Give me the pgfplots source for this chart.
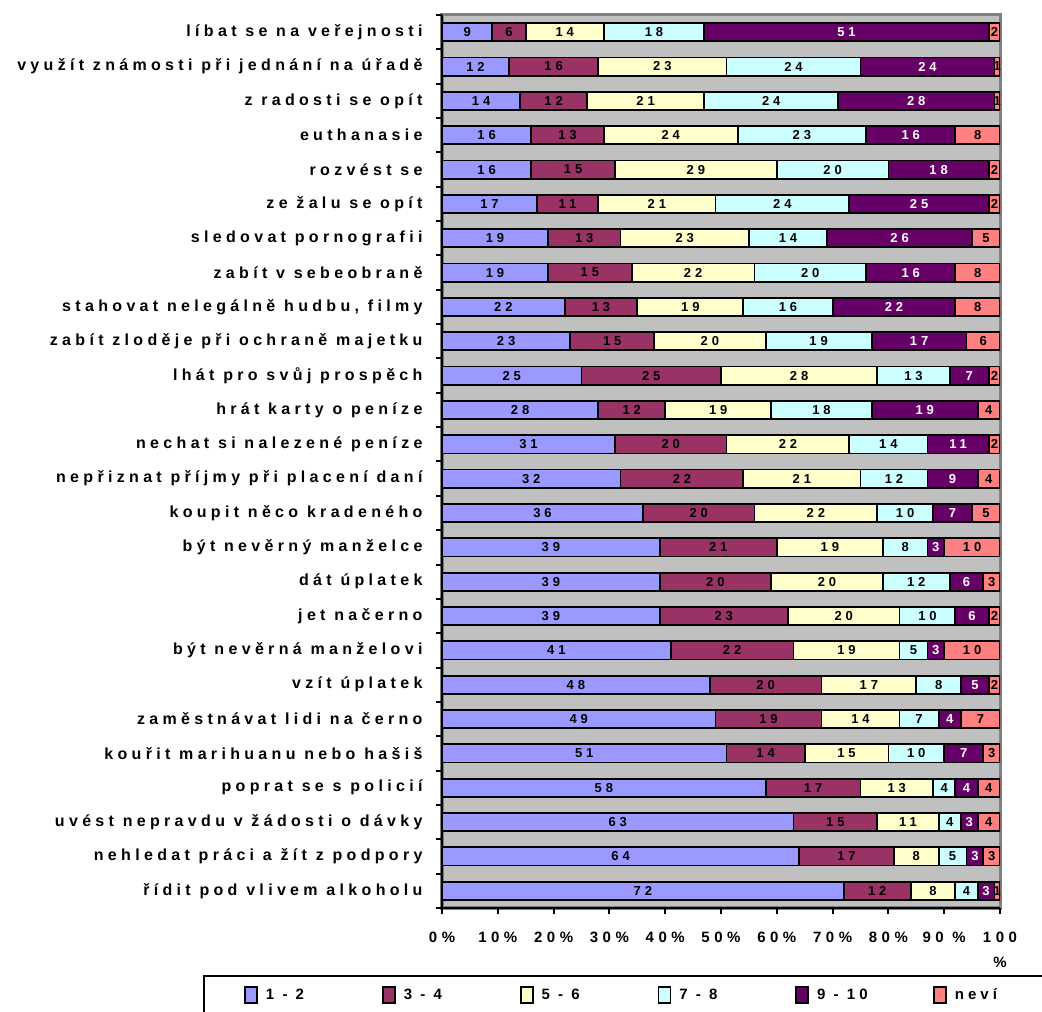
\documentclass[border=0pt]{standalone}
\usepackage{fontspec}
\setmainfont{Liberation Sans}
\newfontfamily\labfont[LetterSpace=27]{Liberation Sans}
\newfontfamily\numfont[LetterSpace=30]{Liberation Sans}
\usepackage{pgfplots}
\usepackage{pgfplotstable}
\pgfplotsset{compat=1.18}

\definecolor{c12}{HTML}{9999FF}
\definecolor{c34}{HTML}{993366}
\definecolor{c56}{HTML}{FFFFCC}
\definecolor{c78}{HTML}{CCFFFF}
\definecolor{c910}{HTML}{660066}
\definecolor{cnev}{HTML}{FF8080}
\definecolor{plotbg}{HTML}{C0C0C0}
\definecolor{framegray}{HTML}{808080}

% shares of answers (in %), top row first
\pgfplotstableread{
y  a  b  c  d  e  f
25  9  6 14 18 51  2
24 12 16 23 24 24  1
23 14 12 21 24 28  1
22 16 13 24 23 16  8
21 16 15 29 20 18  2
20 17 11 21 24 25  2
19 19 13 23 14 26  5
18 19 15 22 20 16  8
17 22 13 19 16 22  8
16 23 15 20 19 17  6
15 25 25 28 13  7  2
14 28 12 19 18 19  4
13 31 20 22 14 11  2
12 32 22 21 12  9  4
11 36 20 22 10  7  5
10 39 21 19  8  3 10
 9 39 20 20 12  6  3
 8 39 23 20 10  6  2
 7 41 22 19  5  3 10
 6 48 20 17  8  5  2
 5 49 19 14  7  4  7
 4 51 14 15 10  7  3
 3 58 17 13  4  4  4
 2 63 15 11  4  3  4
 1 64 17  8  5  3  3
 0 72 12  8  4  3  1
}\answers

% middle of each segment, for the value labels
\pgfplotstablecreatecol[expr={\thisrow{a}/2}]{ma}\answers
\pgfplotstablecreatecol[expr={\thisrow{a}+\thisrow{b}/2}]{mb}\answers
\pgfplotstablecreatecol[expr={\thisrow{a}+\thisrow{b}+\thisrow{c}/2}]{mc}\answers
\pgfplotstablecreatecol[expr={\thisrow{a}+\thisrow{b}+\thisrow{c}+\thisrow{d}/2}]{md}\answers
\pgfplotstablecreatecol[expr={\thisrow{a}+\thisrow{b}+\thisrow{c}+\thisrow{d}+\thisrow{e}/2}]{me}\answers
\pgfplotstablecreatecol[expr={\thisrow{a}+\thisrow{b}+\thisrow{c}+\thisrow{d}+\thisrow{e}+\thisrow{f}/2}]{mf}\answers

\pgfplotsset{
  frame/.style={
    at={(442bp,104bp)}, anchor=south west,
    scale only axis, width=558bp, height=893bp,
    xmin=0, xmax=100, ymin=-0.5, ymax=25.5},
}

\begin{document}
\begin{tikzpicture}
\begin{axis}[
  frame,
  xbar stacked, bar width=0.53,
  axis background/.style={fill=plotbg, draw=framegray, line width=3bp},
  axis x line*=bottom, axis y line*=left,
  axis line style={-, black, line width=2.5bp},
  every outer x axis line/.append style={-},
  every outer y axis line/.append style={-},
  tick align=outside,
  xtick={0,10,...,100},
  xticklabels={0\%,10\%,20\%,30\%,40\%,50\%,60\%,70\%,80\%,90 \%,{100\\\%}},
  xticklabel style={align=center, font=\numfont\bfseries\fontsize{15bp}{25bp}\selectfont, yshift=-15bp},
  ytick={0,...,25},
  yticklabels={
    řídit pod vlivem alkoholu,
    nehledat práci a žít z podpory,
    uvést nepravdu v žádosti o dávky,
    poprat se s policií,
    kouřit marihuanu nebo hašiš,
    zaměstnávat lidi na černo,
    vzít úplatek,
    být nevěrná manželovi,
    jet načerno,
    dát úplatek,
    být nevěrný manželce,
    koupit něco kradeného,
    nepřiznat příjmy při placení daní,
    nechat si nalezené peníze,
    hrát karty o peníze,
    lhát pro svůj prospěch,
    zabít zloděje při ochraně majetku,
    {stahovat nelegálně hudbu, filmy},
    zabít v sebeobraně,
    sledovat pornografii,
    ze žalu se opít,
    rozvést se,
    euthanasie,
    z radosti se opít,
    využít známosti při jednání na úřadě,
    líbat se na veřejnosti},
  yticklabel style={font=\labfont\bfseries\fontsize{16bp}{18bp}\selectfont, xshift=-10bp},
  minor ytick={-0.5,0.5,...,25.5},
  major y tick style={draw=none},
  major tick length=6bp, minor tick length=6bp,
  every tick/.style={black, line width=2bp},
  every minor tick/.style={black, line width=2bp},
  every axis plot/.append style={draw=black, line width=1.8bp},
  legend columns=6,
  legend style={at={(axis description cs:-0.428,-0.075)}, anchor=north west,
    draw=black, line width=2bp, inner xsep=40bp, inner ysep=10bp,
    font=\labfont\bfseries\fontsize{15bp}{17bp}\selectfont,
    column sep=0bp,
    /tikz/every even column/.append style={column sep=12bp}},
  legend image code/.code={\draw[#1, draw=black, line width=1.8bp] (0bp,-8bp) rectangle (12bp,8bp);},
]
\addplot[fill=c12] table[x=a, y=y] {\answers};
\addplot[fill=c34] table[x=b, y=y] {\answers};
\addplot[fill=c56] table[x=c, y=y] {\answers};
\addplot[fill=c78] table[x=d, y=y] {\answers};
\addplot[fill=c910] table[x=e, y=y] {\answers};
\addplot[fill=cnev] table[x=f, y=y] {\answers};
\addlegendentry{\makebox[108bp][l]{\hspace*{6bp}1 - 2}}
\addlegendentry{\makebox[108bp][l]{\hspace*{6bp}3 - 4}}
\addlegendentry{\makebox[108bp][l]{\hspace*{6bp}5 - 6}}
\addlegendentry{\makebox[108bp][l]{\hspace*{6bp}7 - 8}}
\addlegendentry{\makebox[108bp][l]{\hspace*{6bp}9 - 10}}
\addlegendentry{\makebox[108bp][l]{\hspace*{6bp}neví}}
\end{axis}

% value labels in the middle of every segment
\begin{axis}[
  frame, hide axis,
  /pgf/number format/assume math mode=true,
  point meta=explicit,
  nodes near coords,
  every node near coord/.append style={anchor=center, inner sep=0pt,
    font=\numfont\bfseries\fontsize{13bp}{15bp}\selectfont},
]
\addplot[only marks, mark=none] table[x=ma, y=y, meta=a] {\answers};
\addplot[only marks, mark=none] table[x=mb, y=y, meta=b] {\answers};
\addplot[only marks, mark=none] table[x=mc, y=y, meta=c] {\answers};
\addplot[only marks, mark=none] table[x=md, y=y, meta=d] {\answers};
\addplot[only marks, mark=none, every node near coord/.append style={text=white}]
  table[x=me, y=y, meta=e] {\answers};
\addplot[only marks, mark=none] table[x=mf, y=y, meta=f] {\answers};
\end{axis}
\pgfresetboundingbox
\path[use as bounding box] (0,0) rectangle (1042bp,1012bp);
\end{tikzpicture}
\end{document}
